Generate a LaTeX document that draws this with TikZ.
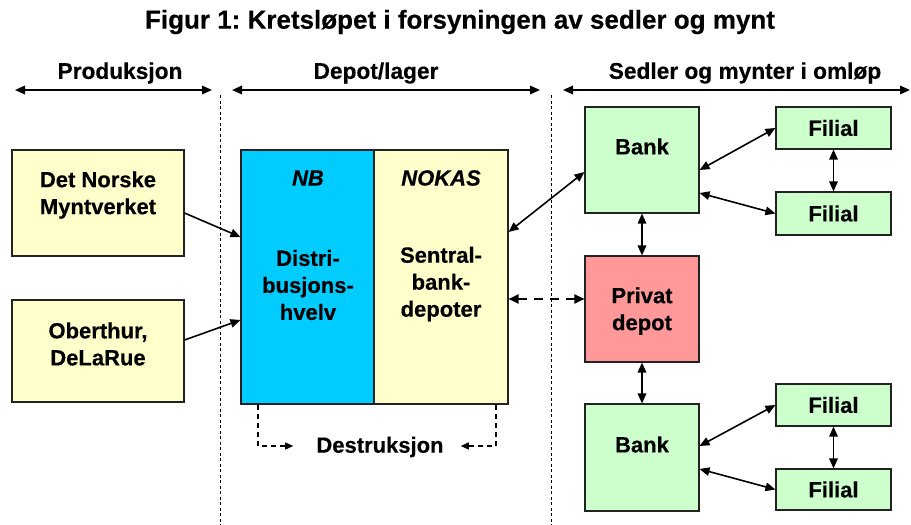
\documentclass[tikz,border=0pt]{standalone}
\usepackage{fontspec}
\setmainfont{Liberation Sans}[BoldFeatures={FakeBold=0.4},BoldItalicFeatures={FakeBold=0.4}]
\usetikzlibrary{arrows.meta}
\definecolor{cyanbox}{HTML}{00CCFF}
\definecolor{yelbox}{HTML}{FFFFCC}
\definecolor{grnbox}{HTML}{CCFFCC}
\definecolor{pinkbox}{HTML}{FF9999}
\definecolor{edge}{HTML}{222222}
\frenchspacing
\begin{document}
\begin{tikzpicture}[x=1pt,y=-1pt,
  box/.style={draw=edge, line width=1.1pt, inner sep=0pt},
  txt/.style={font=\fontsize{22}{27}\selectfont\bfseries, align=center, inner sep=0pt},
  itxt/.style={font=\fontsize{22}{27}\selectfont\bfseries\itshape, align=center, inner sep=0pt},
  head/.style={font=\fontsize{22.7}{28}\selectfont\bfseries, inner sep=0pt},
  conn/.style={line width=1.6pt, {Triangle[length=10pt,width=8.5pt]}-{Triangle[length=10pt,width=8.5pt]}},
  oneway/.style={line width=1.6pt, -{Triangle[length=10pt,width=8.5pt]}},
  harrow/.style={line width=1.9pt, {Triangle[length=10pt,width=8.5pt]}-{Triangle[length=10pt,width=8.5pt]}},
  sep/.style={line width=0.9pt, dash pattern=on 3pt off 2.5pt},
  bigdash/.style={line width=2pt, dash pattern=on 9pt off 7pt, {Triangle[length=10pt,width=9pt]}-{Triangle[length=10pt,width=9pt]}},
  smalldash/.style={line width=1.3pt, dash pattern=on 5pt off 4pt, -{Triangle[length=8pt,width=7pt]}}
]
\useasboundingbox (0,0) rectangle (911,525);

% title
\node[font=\fontsize{26}{30}\selectfont\bfseries, inner sep=0pt] (title) at (460,22) {Figur 1: Kretsløpet i forsyningen av sedler og mynt};

% headers
\node[head] (hprod) at (120,73) {Produksjon};
\node[head] (hdep) at (376,73) {Depot/lager};
\node[head] (hsed) at (745,73) {Sedler og mynter i omløp};

\coordinate (a1) at (15,90);  \coordinate (a2) at (212,90);
\coordinate (b1) at (232,90); \coordinate (b2) at (540,90);
\coordinate (c1) at (563,90); \coordinate (c2) at (910,90);
\draw[harrow] (a1) -- (a2);
\draw[harrow] (b1) -- (b2);
\draw[harrow] (c1) -- (c2);

% separators
\coordinate (s1t) at (220,95); \coordinate (s1b) at (220,525);
\coordinate (s2t) at (551,95); \coordinate (s2b) at (551,525);
\draw[sep] (s1t) -- (s1b);
\draw[sep] (s2t) -- (s2b);

% boxes
\node[box, fill=yelbox, minimum width=172pt, minimum height=106pt] (myn) at (98,203) {};
\node[txt] (myntxt) at (98,195) {Det Norske\\Myntverket};
\node[box, fill=yelbox, minimum width=172pt, minimum height=102pt] (obe) at (98,351) {};
\node[txt] (obetxt) at (98,344) {Oberthur,\\DeLaRue};

\node[box, fill=cyanbox, minimum width=134pt, minimum height=254pt] (nb) at (308,277) {};
\node[box, fill=yelbox, minimum width=134pt, minimum height=254pt] (nokas) at (441,277) {};
\node[itxt] (nbt) at (308,178) {NB};
\node[txt] (nbtxt) at (308,285) {Distri-\\busjons-\\hvelv};
\node[itxt] (nokt) at (441,178) {NOKAS};
\node[txt] (noktxt) at (441,284) {Sentral-\\bank-\\depoter};

\node[box, fill=grnbox, minimum width=114pt, minimum height=106pt] (bank1) at (642,160) {};
\node[txt] (bank1t) at (642,146.5) {Bank};
\node[box, fill=pinkbox, minimum width=114pt, minimum height=106pt] (priv) at (642,309) {};
\node[txt] (privt) at (642,311) {Privat\\depot};
\node[box, fill=grnbox, minimum width=114pt, minimum height=107pt] (bank2) at (642,457.5) {};
\node[txt] (bank2t) at (642,444.5) {Bank};

\node[box, fill=grnbox, minimum width=115pt, minimum height=42pt, txt] (fil1) at (833.5,128) {Filial};
\node[box, fill=grnbox, minimum width=115pt, minimum height=43pt, txt] (fil2) at (833.5,213.5) {Filial};
\node[box, fill=grnbox, minimum width=115pt, minimum height=42pt, txt] (fil3) at (833.5,405) {Filial};
\node[box, fill=grnbox, minimum width=115pt, minimum height=41pt, txt] (fil4) at (833.5,489.5) {Filial};

\node[txt] (dest) at (380,447) {Destruksjon};

% connectors
\draw[oneway] ([yshift=-10pt]myn.east) -- ([yshift=40pt]nb.west);
\draw[oneway] ([yshift=11pt]obe.east) -- ([yshift=-43pt]nb.west);
\draw[conn] ([yshift=45pt]nokas.east) -- ([yshift=-12pt]bank1.west);
\draw[bigdash] ([yshift=-22pt]nokas.east) -- ([yshift=10pt]priv.west);

\draw[conn] ([yshift=-10pt]bank1.east) -- (fil1.west);
\draw[conn] ([yshift=-33pt]bank1.east) -- (fil2.west);
\draw[conn] (fil1.south) -- (fil2.north);
\draw[conn] (bank1.south) -- (priv.north);
\draw[conn] (priv.south) -- (bank2.north);
\draw[conn] ([yshift=11.5pt]bank2.east) -- (fil3.west);
\draw[conn] ([yshift=-11.5pt]bank2.east) -- (fil4.west);
\draw[conn] (fil3.south) -- (fil4.north);

\draw[smalldash] ([xshift=-50pt]nb.south) |- ([xshift=-23pt,yshift=1pt]dest.west);
\draw[smalldash] ([xshift=55pt]nokas.south) |- ([xshift=17pt,yshift=1pt]dest.east);
\end{tikzpicture}
\end{document}
